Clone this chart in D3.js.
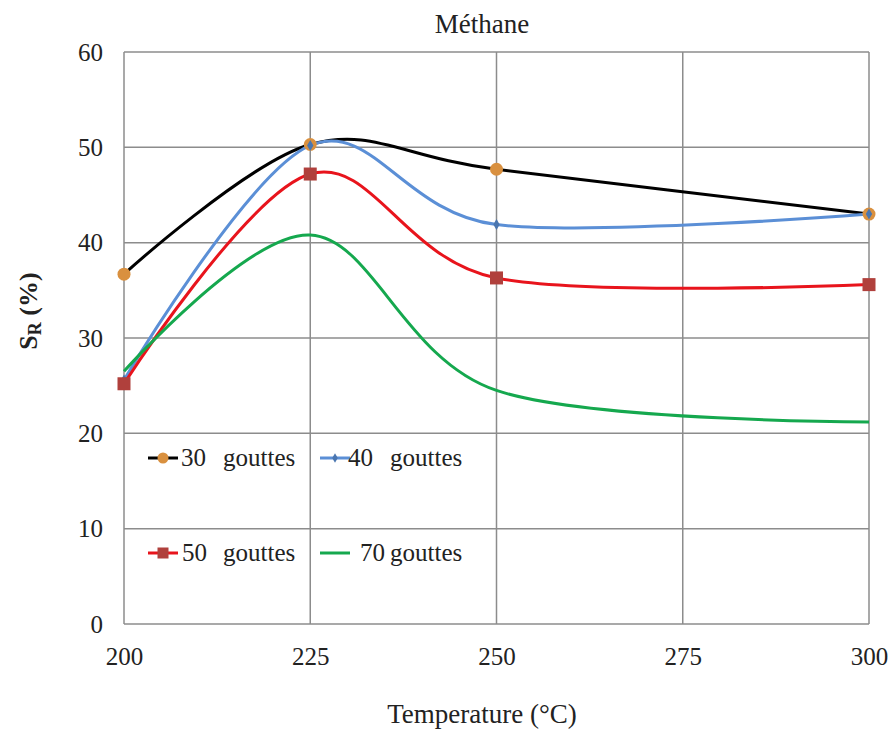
<!DOCTYPE html>
<meta charset="utf-8">
<style>
body { margin: 0; background: #fff; }
text { font-family: "Liberation Serif", "Times New Roman", serif; fill: #222; }
.grid line { stroke: #8c8c8c; stroke-width: 1.5px; }
.axis path, .axis line { display: none; }
.axis text { font-size: 25px; font-family: "Liberation Serif", serif; fill: #222; }
.curve { fill: none; stroke-width: 3px; }
</style>
<body>
<script src="https://d3js.org/d3.v7.min.js"></script>
<script>

// data
var temps = [200, 225, 250, 300];
var xTicks = [200, 225, 250, 275, 300];
var yTicks = [0, 10, 20, 30, 40, 50, 60];
var g30 = [36.7, 50.3, 47.7, 43.0];
var g40 = [25.6, 50.2, 41.9, 43.0];
var g50 = [25.2, 47.2, 36.3, 35.6];
var g70 = [26.5, 40.8, 24.5, 21.2];

var series = [
  {name: "30", values: g30, color: "#000000", marker: "circle", fill: "#d9903f"},
  {name: "40", values: g40, color: "#5b8fd6", marker: "diamond", fill: "#4a76b0"},
  {name: "50", values: g50, color: "#e8141c", marker: "square", fill: "#b0403c"},
  {name: "70", values: g70, color: "#15a84e", marker: "none", fill: "#15a84e"}
];

var margin = {top: 52, right: 22, bottom: 107, left: 124},
    width = 891 - margin.left - margin.right,
    height = 731 - margin.top - margin.bottom;

var svg = d3.select("body").append("svg")
    .attr("width", 891)
    .attr("height", 731);

var g = svg.append("g")
    .attr("transform", "translate(" + margin.left + "," + margin.top + ")");

var x = d3.scaleLinear().domain([200, 300]).range([0, width]);
var y = d3.scaleLinear().domain([0, 60]).range([height, 0]);

// grid
var grid = g.append("g").attr("class", "grid");
grid.selectAll(".h").data(yTicks).enter().append("line")
    .attr("x1", 0).attr("x2", width)
    .attr("y1", function(d) { return y(d); })
    .attr("y2", function(d) { return y(d); });
grid.selectAll(".v").data(xTicks).enter().append("line")
    .attr("y1", 0).attr("y2", height)
    .attr("x1", function(d) { return x(d); })
    .attr("x2", function(d) { return x(d); });

// axes
g.append("g").attr("class", "axis")
    .attr("transform", "translate(0," + height + ")")
    .call(d3.axisBottom(x).tickValues(xTicks).tickSize(0).tickPadding(23).tickFormat(d3.format("d")));
g.append("g").attr("class", "axis")
    .call(d3.axisLeft(y).tickValues(yTicks).tickSize(0).tickPadding(21));

// curves
var line = d3.line()
    .x(function(d, i) { return x(temps[i]); })
    .y(function(d) { return y(d); })
    .curve(d3.curveCardinal.tension(0));

series.forEach(function(s) {
  g.append("path")
      .datum(s.values)
      .attr("class", "curve")
      .attr("stroke", s.color)
      .attr("d", line);
});

function drawMarker(sel, type, fill, size) {
  if (type === "circle") {
    sel.append("circle").attr("r", size).attr("fill", fill);
  } else if (type === "square") {
    sel.append("rect").attr("x", -size).attr("y", -size)
      .attr("width", size * 2).attr("height", size * 2).attr("fill", fill);
  } else if (type === "diamond") {
    sel.append("path").attr("d", d3.symbol().type(d3.symbolDiamond).size(size * size * 2.2)).attr("fill", fill);
  }
}

series.forEach(function(s) {
  if (s.marker === "none") return;
  s.values.forEach(function(v, i) {
    var m = g.append("g").attr("transform", "translate(" + x(temps[i]) + "," + y(v) + ")");
    drawMarker(m, s.marker, s.fill, s.marker === "diamond" ? 4 : 6.5);
  });
});

// legend (positions in plot coordinates)
var legendPos = [
  {s: series[0], lx: 24, ly: 406, nx: 57, gx: 99},
  {s: series[1], lx: 196, ly: 406, nx: 224, gx: 266},
  {s: series[2], lx: 24, ly: 501, nx: 58, gx: 99},
  {s: series[3], lx: 196, ly: 501, nx: 236, gx: 266}
];
legendPos.forEach(function(l) {
  var lg = g.append("g").attr("transform", "translate(0," + l.ly + ")");
  lg.append("line").attr("x1", l.lx).attr("x2", l.lx + 30).attr("y1", 0).attr("y2", 0)
    .attr("stroke", l.s.color).attr("stroke-width", 3);
  var m = lg.append("g").attr("transform", "translate(" + (l.lx + 15) + ",0)");
  drawMarker(m, l.s.marker, l.s.fill, l.s.marker === "diamond" ? 3.5 : 5.5);
  var t = lg.append("text").attr("y", 8).style("font-size", "25px");
  t.append("tspan").attr("x", l.nx).text(l.s.name);
  t.append("tspan").attr("x", l.gx).text("gouttes");
});

// title and axis labels
svg.append("text")
    .attr("x", 482).attr("y", 33)
    .attr("text-anchor", "middle")
    .style("font-size", "27px")
    .text("Méthane");

svg.append("text")
    .attr("x", 482).attr("y", 723)
    .attr("text-anchor", "middle")
    .style("font-size", "27px")
    .text("Temperature (°C)");

var yl = svg.append("text")
    .attr("transform", "translate(37,311) rotate(-90)")
    .attr("text-anchor", "middle")
    .style("font-size", "26px")
    .style("font-weight", "bold");
yl.append("tspan").text("S");
yl.append("tspan").attr("dy", 4).style("font-size", "18px").text("R");
yl.append("tspan").attr("dy", -4).text(" (%)");

</script>
</body>
